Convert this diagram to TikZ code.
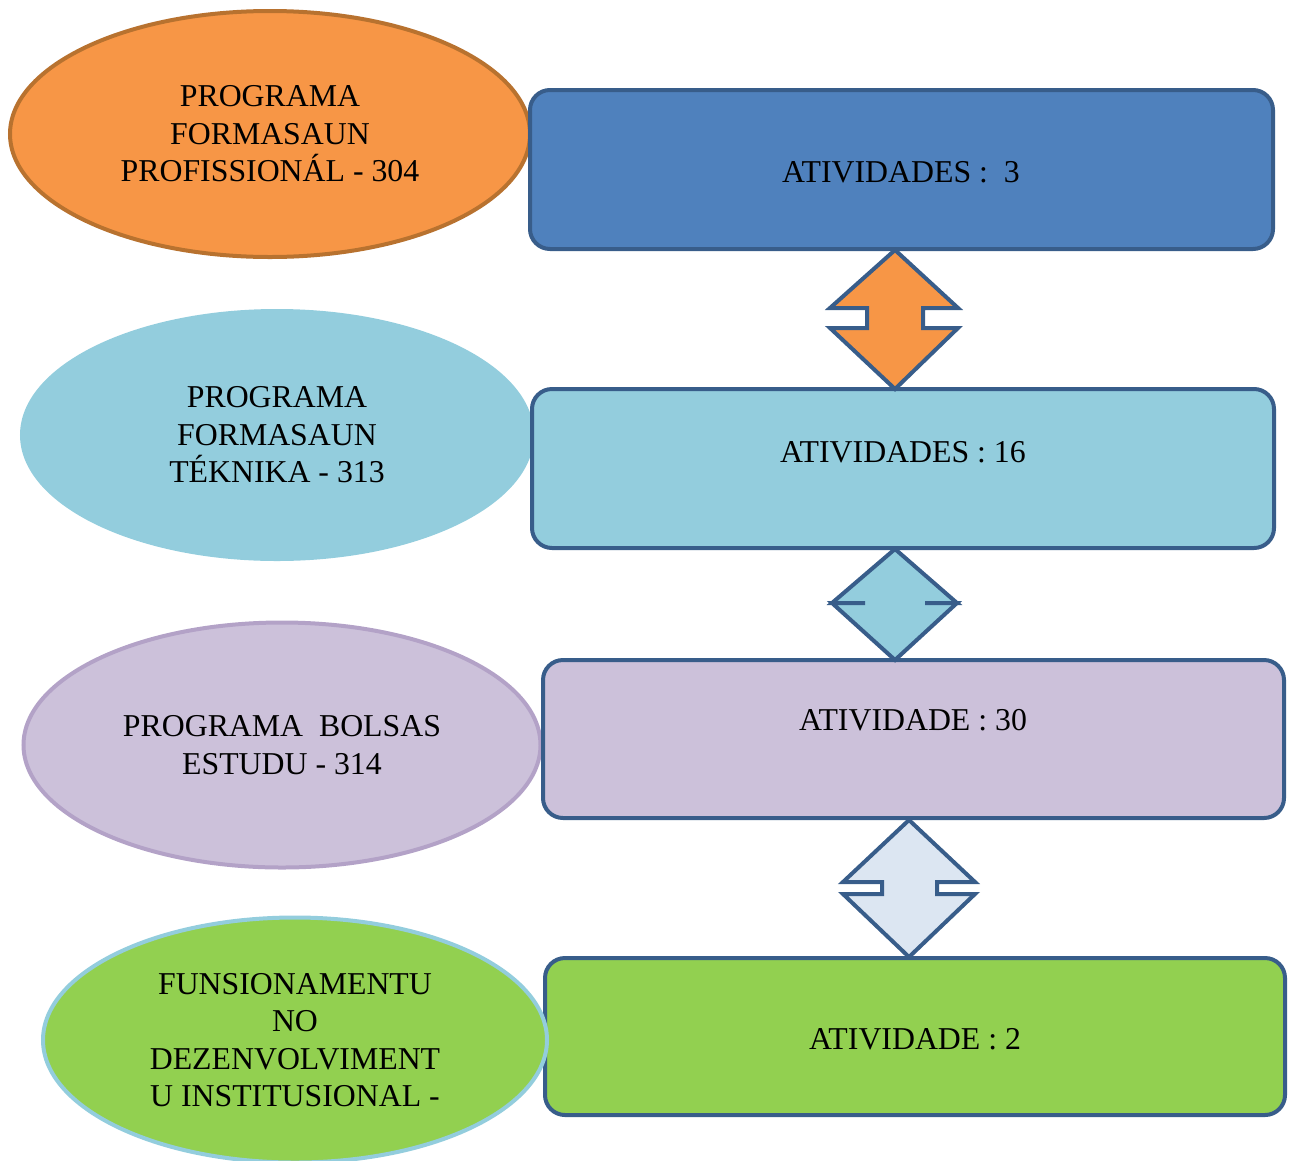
\documentclass[tikz,border=0pt]{standalone}
\usepackage{fontspec}
\setmainfont{Liberation Serif}
\usetikzlibrary{shapes.geometric}
\definecolor{orangeF}{HTML}{F79646}
\definecolor{orangeD}{HTML}{B8722F}
\definecolor{blueF}{HTML}{4F81BD}
\definecolor{blueD}{HTML}{385D8A}
\definecolor{aquaF}{HTML}{93CDDD}
\definecolor{lavF}{HTML}{CCC1DA}
\definecolor{lavD}{HTML}{B3A2C7}
\definecolor{greenF}{HTML}{92D050}
\definecolor{paleF}{HTML}{DCE6F2}
\begin{document}
\begin{tikzpicture}[x=1pt,y=-1pt,
  txt/.style={font=\fontsize{31.8}{37.5}\selectfont, align=center, inner sep=0pt},
  box/.style={draw=blueD, line width=4pt, rounded corners=20pt, inner sep=0pt},
  oval/.style={ellipse, line width=4pt, inner sep=0pt, txt},
  dbl/.style={draw=blueD, line width=4pt, line join=miter}
]
\useasboundingbox (0,0) rectangle (1290,1160);

% ellipses (left)
\node[oval, draw=orangeD, fill=orangeF, minimum width=520, minimum height=246] (e1) at (270,134)
  {PROGRAMA\\FORMASAUN\\PROFISSIONÁL - 304};
\node[oval, draw=aquaF, fill=aquaF, minimum width=510, minimum height=248] (e2) at (277,435)
  {PROGRAMA\\FORMASAUN\\TÉKNIKA - 313};
\node[oval, draw=lavD, fill=lavF, minimum width=517, minimum height=245] (e3) at (282,745)
  {PROGRAMA\ \ BOLSAS\\ESTUDU - 314};

% boxes (right)
\node[box, fill=blueF, minimum width=743, minimum height=159] (r1) at (901.5,169.5) {};
\node[box, fill=aquaF, minimum width=742, minimum height=159] (r2) at (903,468.5) {};
\node[box, fill=lavF, minimum width=741, minimum height=158] (r3) at (913.5,739) {};
\node[box, fill=greenF, minimum width=740, minimum height=157] (r4) at (915,1036.5) {};

\node[oval, draw=aquaF, fill=greenF, minimum width=504, minimum height=245] (e4) at (295,1040)
  {FUNSIONAMENTU\\NO\\DEZENVOLVIMENT\\U INSTITUSIONAL -};

\node[txt] (t1) at (901,172) {ATIVIDADES :\ \ 3};
\node[txt] (t2) at (903,452) {ATIVIDADES : 16};
\node[txt] (t3) at (913,720) {ATIVIDADE : 30};
\node[txt] (t4) at (915,1039) {ATIVIDADE : 2};

% double arrows between boxes
\draw[dbl, fill=orangeF] (895,250) -- (830,308) -- (867,308) -- (867,328) -- (830,328)
  -- (895,389) -- (958,328) -- (923,328) -- (923,308) -- (958,308) -- cycle;
\draw[dbl, fill=aquaF] (895,549) -- (832,603) -- (865,603) -- (832,603)
  -- (895,660) -- (957,603) -- (925,603) -- (957,603) -- cycle;
\draw[dbl, fill=paleF] (909,820) -- (843,882) -- (882,882) -- (882,894) -- (843,894)
  -- (909,957) -- (975,894) -- (937,894) -- (937,882) -- (975,882) -- cycle;
\end{tikzpicture}
\end{document}
